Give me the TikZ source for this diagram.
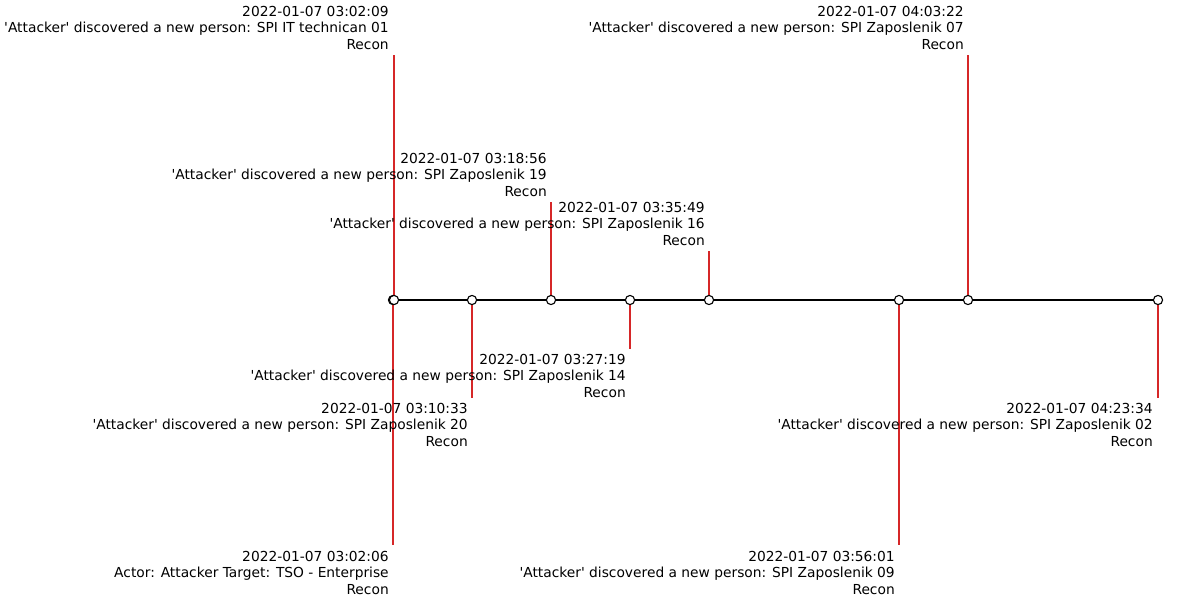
\documentclass[tikz,border=0pt]{standalone}
\usepackage{fontspec}
\setmainfont{DejaVu Sans}[Ligatures=TeXOff]
\begin{document}
\begin{tikzpicture}[x=0.72pt,y=-0.72pt,
  stem/.style={draw={rgb,255:red,214;green,39;blue,40}, line width=1.1pt},
  axisline/.style={draw=black, line width=1.45pt},
  marker/.style={circle, draw=black, fill=white, line width=0.8pt, minimum size=6.6pt, inner sep=0pt},
  lbl/.style={anchor=north east, inner sep=0pt, align=right, font=\fontsize{9.93}{11.8}\selectfont}]
\useasboundingbox (0,0) rectangle (1200,600);
% timeline points
\coordinate (c1) at (393,300);
\coordinate (c2) at (394,300);
\coordinate (c3) at (472,300);
\coordinate (c4) at (551,300);
\coordinate (c5) at (630,300);
\coordinate (c6) at (709,300);
\coordinate (c7) at (899,300);
\coordinate (c8) at (968,300);
\coordinate (c9) at (1158,300);
% stem ends
\coordinate (e1) at (393,545);
\coordinate (e2) at (394,55);
\coordinate (e3) at (472,398);
\coordinate (e4) at (551,202);
\coordinate (e5) at (630,349);
\coordinate (e6) at (709,251);
\coordinate (e7) at (899,545);
\coordinate (e8) at (968,55);
\coordinate (e9) at (1158,398);
% stems
\foreach \i in {1,...,9} \draw[stem] (c\i) -- (e\i);
% axis
\draw[axisline] (c1) -- (c9);
% markers
\foreach \i in {1,...,9} \node[marker] (m\i) at (c\i) {};
% labels
\node[lbl] (l1) at (389,551) {2022-01-07 03:02:06\\Actor: Attacker Target: TSO - Enterprise\\Recon};
\node[lbl] (l2) at (389,6) {2022-01-07 03:02:09\\'Attacker' discovered a new person: SPI IT technican 01\\Recon};
\node[lbl] (l3) at (468,403) {2022-01-07 03:10:33\\'Attacker' discovered a new person: SPI Zaposlenik 20\\Recon};
\node[lbl] (l4) at (547,153) {2022-01-07 03:18:56\\'Attacker' discovered a new person: SPI Zaposlenik 19\\Recon};
\node[lbl] (l5) at (626,354) {2022-01-07 03:27:19\\'Attacker' discovered a new person: SPI Zaposlenik 14\\Recon};
\node[lbl] (l6) at (705,202) {2022-01-07 03:35:49\\'Attacker' discovered a new person: SPI Zaposlenik 16\\Recon};
\node[lbl] (l7) at (895,551) {2022-01-07 03:56:01\\'Attacker' discovered a new person: SPI Zaposlenik 09\\Recon};
\node[lbl] (l8) at (964,6) {2022-01-07 04:03:22\\'Attacker' discovered a new person: SPI Zaposlenik 07\\Recon};
\node[lbl] (l9) at (1153,403) {2022-01-07 04:23:34\\'Attacker' discovered a new person: SPI Zaposlenik 02\\Recon};
\end{tikzpicture}
\end{document}
